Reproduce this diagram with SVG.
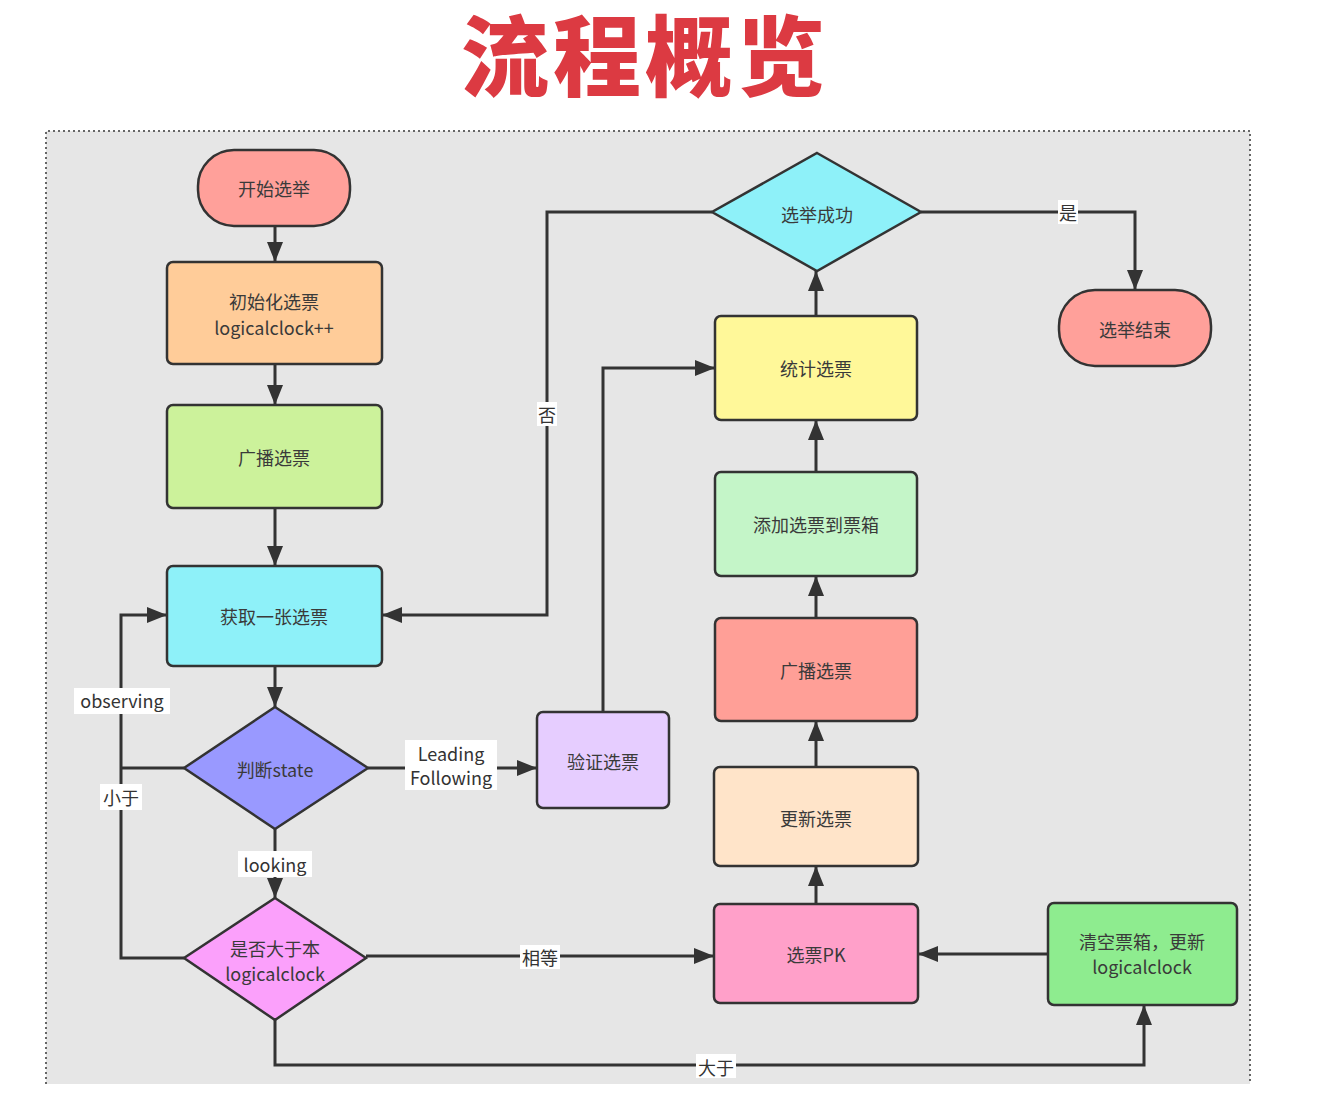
<svg xmlns="http://www.w3.org/2000/svg" width="1318" height="1106" viewBox="0 0 1318 1106">
<defs>
<marker id="arr" markerUnits="userSpaceOnUse" markerWidth="22" markerHeight="18" refX="20" refY="8" orient="auto">
<path d="M0,0 L20,8 L0,16 z" fill="#333"/>
</marker>
<style>
.n{stroke:#333;stroke-width:2.5}
.t{font-family:"Noto Sans CJK SC","Noto Sans",sans-serif;font-size:18px;fill:#3a3a3a;text-anchor:middle;dominant-baseline:central}
.c{fill:none;stroke:#333;stroke-width:3}
.a{marker-end:url(#arr)}
.lb{fill:#fff}
.l{font-family:"Noto Sans CJK SC","Noto Sans",sans-serif;font-size:18px;fill:#333;text-anchor:middle;dominant-baseline:central}
</style>
</defs>
<rect width="1318" height="1106" fill="#fff"/>
<text x="645" y="50" font-family="'Noto Sans CJK SC',sans-serif" font-weight="900" font-size="88" letter-spacing="4" fill="#dc3a42" text-anchor="middle" dominant-baseline="central">流程概览</text>
<rect x="46" y="131" width="1204" height="953" fill="#e6e6e6"/>
<path d="M46,1084 V131 H1250 V1084" fill="none" stroke="#666" stroke-width="2" stroke-dasharray="2 3"/>

<g id="connectors">
<path class="c a" d="M275,226 V262"/>
<path class="c a" d="M275,364 V405"/>
<path class="c a" d="M275,508 V566"/>
<path class="c a" d="M275,666 V707"/>
<path class="c a" d="M275,829 V898"/>
<path class="c" d="M184,768 H121"/>
<path class="c a" d="M184,958 H121 V615 H167"/>
<path class="c a" d="M368,768 H537"/>
<path class="c a" d="M603,712 V368 H715"/>
<path class="c a" d="M366,956 H714"/>
<path class="c a" d="M1048,954 H918"/>
<path class="c a" d="M275,1020 V1065 H1144 V1005"/>
<path class="c a" d="M816,904 V866"/>
<path class="c a" d="M816,767 V721"/>
<path class="c a" d="M816,618 V576"/>
<path class="c a" d="M816,472 V420"/>
<path class="c a" d="M816,316 V271"/>
<path class="c a" d="M712,212 H547 V615 H382"/>
<path class="c a" d="M921,212 H1135 V290"/>
<rect class="lb" x="74" y="688" width="96" height="26"/>
<text class="l" x="122" y="700">observing</text>
<rect class="lb" x="100" y="784" width="42" height="26"/>
<text class="l" x="121" y="797">小于</text>
<rect class="lb" x="238" y="851" width="74" height="26"/>
<text class="l" x="275" y="864">looking</text>
<rect class="lb" x="405" y="740" width="92" height="50"/>
<text class="l" x="451" y="753">Leading</text>
<text class="l" x="451" y="777">Following</text>
<rect class="lb" x="520" y="945" width="40" height="24"/>
<text class="l" x="540" y="957">相等</text>
<rect class="lb" x="696" y="1054" width="40" height="24"/>
<text class="l" x="716" y="1067">大于</text>
<rect class="lb" x="537" y="402" width="20" height="24"/>
<text class="l" x="547" y="414">否</text>
<rect class="lb" x="1058" y="200" width="20" height="24"/>
<text class="l" x="1068" y="212">是</text>
</g>

<g id="start">
<rect class="n" x="198" y="150" width="152" height="76" rx="36" fill="#ffa09a"/>
<text class="t" x="274" y="188">开始选举</text>
</g>
<g id="init">
<rect class="n" x="167" y="262" width="215" height="102" rx="6" fill="#ffcc99"/>
<text class="t" x="274" y="301">初始化选票</text>
<text class="t" x="274" y="327">logicalclock++</text>
</g>
<g id="broadcast1">
<rect class="n" x="167" y="405" width="215" height="103" rx="6" fill="#ccf29b"/>
<text class="t" x="274" y="457">广播选票</text>
</g>
<g id="fetch">
<rect class="n" x="167" y="566" width="215" height="100" rx="6" fill="#8ef1f9"/>
<text class="t" x="274" y="616">获取一张选票</text>
</g>
<g id="judge">
<polygon class="n" points="275,707 368,768 275,829 184,768" fill="#9999ff"/>
<text class="t" x="275" y="769">判断state</text>
</g>
<g id="compare">
<polygon class="n" points="275,898 366,958 275,1020 184,958" fill="#fba0fb"/>
<text class="t" x="275" y="948">是否大于本</text>
<text class="t" x="275" y="973">logicalclock</text>
</g>
<g id="verify">
<rect class="n" x="537" y="712" width="132" height="96" rx="6" fill="#e6cdff"/>
<text class="t" x="603" y="761">验证选票</text>
</g>
<g id="success">
<polygon class="n" points="817,153 921,212 817,271 712,212" fill="#8ef1f9"/>
<text class="t" x="817" y="214">选举成功</text>
</g>
<g id="end">
<rect class="n" x="1059" y="290" width="152" height="76" rx="36" fill="#ffa09a"/>
<text class="t" x="1135" y="329">选举结束</text>
</g>
<g id="count">
<rect class="n" x="715" y="316" width="202" height="104" rx="6" fill="#fff899"/>
<text class="t" x="816" y="368">统计选票</text>
</g>
<g id="addbox">
<rect class="n" x="715" y="472" width="202" height="104" rx="6" fill="#c4f5c8"/>
<text class="t" x="816" y="524">添加选票到票箱</text>
</g>
<g id="broadcast2">
<rect class="n" x="715" y="618" width="202" height="103" rx="6" fill="#ff9f97"/>
<text class="t" x="816" y="670">广播选票</text>
</g>
<g id="update">
<rect class="n" x="714" y="767" width="204" height="99" rx="6" fill="#ffe4c9"/>
<text class="t" x="816" y="818">更新选票</text>
</g>
<g id="pk">
<rect class="n" x="714" y="904" width="204" height="99" rx="6" fill="#ffa0c9"/>
<text class="t" x="816" y="954">选票PK</text>
</g>
<g id="clear">
<rect class="n" x="1048" y="903" width="189" height="102" rx="6" fill="#8eec8f"/>
<text class="t" x="1142" y="941">清空票箱，更新</text>
<text class="t" x="1142" y="966">logicalclock</text>
</g>
</svg>
